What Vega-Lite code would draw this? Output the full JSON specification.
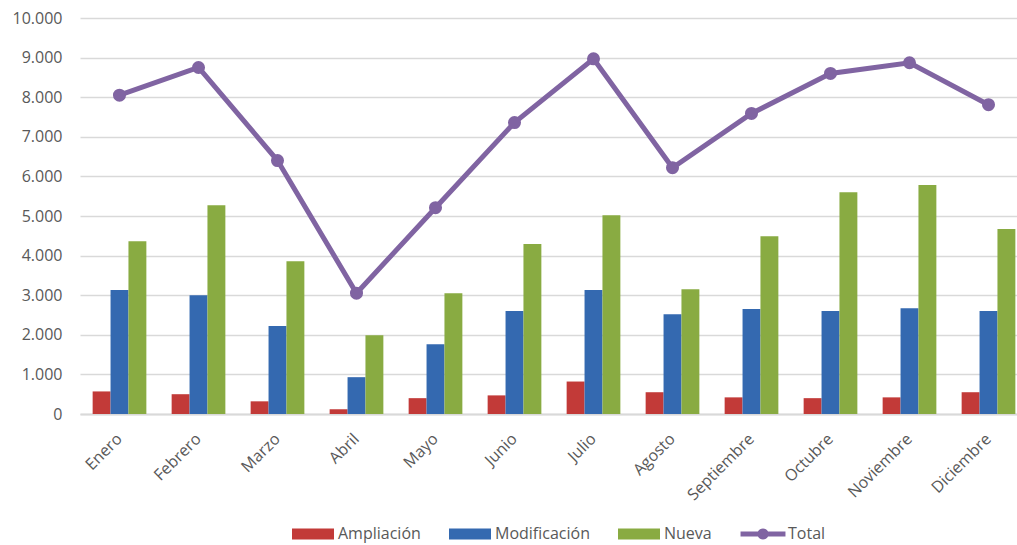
{
  "$schema": "https://vega.github.io/schema/vega-lite/v6.json",
  "width": 937,
  "height": 396,
  "autosize": {"type": "none"},
  "padding": {"left": 80, "top": 18, "right": 0, "bottom": 131},
  "config": {
    "view": {"stroke": null},
    "font": "Open Sans",
    "axis": {"labelFont": "Open Sans", "labelFontSize": 16, "labelColor": "#595959"},
    "legend": {"labelFont": "Open Sans", "labelFontSize": 16, "labelColor": "#595959"}
  },
  "data": {
    "values": [
      {"mes": "Enero", "serie": "Ampliación", "valor": 570},
      {"mes": "Enero", "serie": "Modificación", "valor": 3130},
      {"mes": "Enero", "serie": "Nueva", "valor": 4360},
      {"mes": "Enero", "serie": "Total", "valor": 8050},
      {"mes": "Febrero", "serie": "Ampliación", "valor": 500},
      {"mes": "Febrero", "serie": "Modificación", "valor": 3000},
      {"mes": "Febrero", "serie": "Nueva", "valor": 5270},
      {"mes": "Febrero", "serie": "Total", "valor": 8750},
      {"mes": "Marzo", "serie": "Ampliación", "valor": 320},
      {"mes": "Marzo", "serie": "Modificación", "valor": 2220},
      {"mes": "Marzo", "serie": "Nueva", "valor": 3860},
      {"mes": "Marzo", "serie": "Total", "valor": 6400},
      {"mes": "Abril", "serie": "Ampliación", "valor": 120},
      {"mes": "Abril", "serie": "Modificación", "valor": 930},
      {"mes": "Abril", "serie": "Nueva", "valor": 1990},
      {"mes": "Abril", "serie": "Total", "valor": 3050},
      {"mes": "Mayo", "serie": "Ampliación", "valor": 400},
      {"mes": "Mayo", "serie": "Modificación", "valor": 1760},
      {"mes": "Mayo", "serie": "Nueva", "valor": 3050},
      {"mes": "Mayo", "serie": "Total", "valor": 5210},
      {"mes": "Junio", "serie": "Ampliación", "valor": 470},
      {"mes": "Junio", "serie": "Modificación", "valor": 2600},
      {"mes": "Junio", "serie": "Nueva", "valor": 4290},
      {"mes": "Junio", "serie": "Total", "valor": 7360},
      {"mes": "Julio", "serie": "Ampliación", "valor": 820},
      {"mes": "Julio", "serie": "Modificación", "valor": 3130},
      {"mes": "Julio", "serie": "Nueva", "valor": 5020},
      {"mes": "Julio", "serie": "Total", "valor": 8970},
      {"mes": "Agosto", "serie": "Ampliación", "valor": 550},
      {"mes": "Agosto", "serie": "Modificación", "valor": 2520},
      {"mes": "Agosto", "serie": "Nueva", "valor": 3150},
      {"mes": "Agosto", "serie": "Total", "valor": 6220},
      {"mes": "Septiembre", "serie": "Ampliación", "valor": 420},
      {"mes": "Septiembre", "serie": "Modificación", "valor": 2650},
      {"mes": "Septiembre", "serie": "Nueva", "valor": 4490},
      {"mes": "Septiembre", "serie": "Total", "valor": 7590},
      {"mes": "Octubre", "serie": "Ampliación", "valor": 400},
      {"mes": "Octubre", "serie": "Modificación", "valor": 2600},
      {"mes": "Octubre", "serie": "Nueva", "valor": 5600},
      {"mes": "Octubre", "serie": "Total", "valor": 8600},
      {"mes": "Noviembre", "serie": "Ampliación", "valor": 420},
      {"mes": "Noviembre", "serie": "Modificación", "valor": 2670},
      {"mes": "Noviembre", "serie": "Nueva", "valor": 5780},
      {"mes": "Noviembre", "serie": "Total", "valor": 8870},
      {"mes": "Diciembre", "serie": "Ampliación", "valor": 550},
      {"mes": "Diciembre", "serie": "Modificación", "valor": 2600},
      {"mes": "Diciembre", "serie": "Nueva", "valor": 4670},
      {"mes": "Diciembre", "serie": "Total", "valor": 7810}
    ]
  },
  "encoding": {
    "x": {
      "field": "mes",
      "type": "nominal",
      "sort": ["Enero", "Febrero", "Marzo", "Abril", "Mayo", "Junio", "Julio", "Agosto", "Septiembre", "Octubre", "Noviembre", "Diciembre"],
      "scale": {"range": [0, 948], "paddingInner": 0.32, "paddingOuter": 0.16},
      "axis": {
        "title": null,
        "labelAngle": -45,
        "labelAlign": "right",
        "labelBaseline": "middle",
        "labelPadding": 22,
        "ticks": false,
        "domainColor": "#d9d9d9",
        "domainWidth": 2
      }
    },
    "y": {
      "field": "valor",
      "type": "quantitative",
      "scale": {"domain": [0, 10000], "nice": false},
      "axis": {
        "title": null,
        "values": [0, 1000, 2000, 3000, 4000, 5000, 6000, 7000, 8000, 9000, 10000],
        "labelExpr": "replace(format(datum.value, ','), ',', '.')",
        "ticks": false,
        "domain": false,
        "gridColor": "#d9d9d9",
        "gridWidth": 1.3,
        "labelPadding": 18
      }
    },
    "color": {
      "field": "serie",
      "type": "nominal",
      "scale": {
        "domain": ["Ampliación", "Modificación", "Nueva", "Total"],
        "range": ["#c23a38", "#3469b0", "#89ab42", "#8064a2"]
      },
      "legend": {
        "title": null,
        "orient": "none",
        "direction": "horizontal",
        "legendX": 212,
        "legendY": 495,
        "columnPadding": 28,
        "labelOffset": 4,
        "symbolSize": 1764,
        "symbolStrokeWidth": 0,
        "symbolOpacity": 1
      }
    }
  },
  "layer": [
    {
      "transform": [{"filter": "datum.serie !== 'Total'"}],
      "mark": {"type": "bar"},
      "encoding": {
        "xOffset": {
          "field": "serie",
          "type": "nominal",
          "scale": {"domain": ["Ampliación", "Modificación", "Nueva"], "paddingInner": 0, "paddingOuter": 0}
        }
      }
    },
    {
      "transform": [{"filter": "datum.serie === 'Total'"}],
      "mark": {"type": "line", "strokeWidth": 5}
    },
    {
      "transform": [{"filter": "datum.serie === 'Total'"}],
      "mark": {"type": "point", "filled": true, "size": 170, "opacity": 1, "shape": "circle"}
    },
    {
      "transform": [{"filter": "datum.serie === 'ninguna'"}],
      "mark": {"type": "point", "filled": true, "opacity": 1},
      "encoding": {
        "shape": {
          "field": "serie",
          "type": "nominal",
          "scale": {
            "domain": ["Ampliación", "Modificación", "Nueva", "Total"],
            "range": [
              "M-1,-0.26H1V0.26H-1Z",
              "M-1,-0.26H1V0.26H-1Z",
              "M-1,-0.26H1V0.26H-1Z",
              "M-1.07,-0.12H-0.24A0.27,0.27,0,0,1,0.24,-0.12H1.07V0.12H0.24A0.27,0.27,0,0,1,-0.24,0.12H-1.07Z"
            ]
          },
          "legend": {
            "title": null,
            "orient": "none",
            "direction": "horizontal",
            "legendX": 212,
            "legendY": 495,
            "columnPadding": 28,
            "labelOffset": 4,
            "symbolSize": 1764,
            "symbolStrokeWidth": 0,
            "symbolOpacity": 1
          }
        }
      }
    }
  ]
}
